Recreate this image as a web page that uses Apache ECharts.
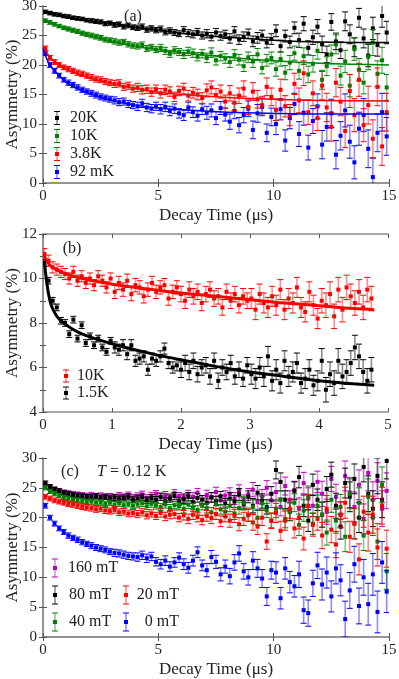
<!DOCTYPE html>
<html>
<head>
<meta charset="utf-8">
<script src="https://cdn.jsdelivr.net/npm/echarts@6/dist/echarts.min.js"></script>
<style>
  html, body { margin: 0; padding: 0; background: #fff; }
  #chart { width: 399px; height: 679px; }
</style>
</head>
<body>
<div id="chart"></div>
<script>
// bin times (us) for panels (a) and (c)
const tA = [0.1,0.3,0.5,0.7,0.9,1.1,1.3,1.5,1.7,1.9,
  2.1,2.3,2.5,2.7,2.9,3.1,3.3,3.5,3.7,3.9,
  4.1,4.3,4.5,4.7,4.9,5.1,5.3,5.5,5.7,5.9,
  6.1,6.3,6.5,6.7,6.9,7.1,7.3,7.5,7.7,7.9,
  8.1,8.3,8.5,8.7,8.9,9.1,9.3,9.5,9.7,9.9,
  10.1,10.3,10.5,10.7,10.9,11.1,11.3,11.5,11.7,11.9,
  12.1,12.3,12.5,12.7,12.9,13.1,13.3,13.5,13.7,13.9,
  14.1,14.3,14.5,14.7,14.9]

// panel (a)
const a20K = [29.0,28.8,28.6,28.5,28.3,28.2,28.0,27.9,27.8,27.6,
  27.5,27.4,27.3,27.0,27.1,26.8,26.9,26.5,26.7,26.4,
  26.3,26.5,26.0,26.2,25.9,26.1,25.6,25.8,25.5,25.3,
  25.9,25.4,25.2,25.6,25.0,25.3,24.8,25.5,24.9,25.2,
  24.5,25.7,24.3,24.8,25.3,24.0,24.6,25.0,23.8,24.4,
  25.8,23.2,24.9,23.9,26.3,24.2,27.0,22.9,24.7,26.5,
  23.5,21.8,27.3,24.0,22.5,27.4,25.2,23.0,28.0,24.5,
  21.6,26.2,23.4,28.3,25.5]
const a10K = [27.5,27.2,26.9,26.6,26.3,26.1,25.9,25.7,25.4,25.2,
  25.0,24.8,24.6,24.3,24.2,24.0,23.8,23.9,23.5,23.3,
  23.2,23.4,22.8,23.0,22.6,22.9,22.4,21.9,22.5,22.2,
  21.8,22.3,22.0,21.4,21.9,21.2,22.1,20.8,21.5,21.1,
  20.5,21.7,20.9,19.8,21.3,20.6,21.8,19.5,20.8,21.2,
  19.3,21.0,18.7,20.4,22.0,19.0,21.5,18.4,20.2,22.4,
  17.5,19.8,21.8,23.5,18.2,20.6,16.5,22.7,19.2,17.0,
  21.4,23.8,18.5,20.8,16.2]
const a38K = [22.8,21.2,20.5,20.0,19.6,19.3,19.0,18.7,18.5,18.2,
  17.9,17.6,17.5,17.2,17.0,16.8,16.9,16.3,16.5,16.0,
  16.2,15.8,15.9,15.4,15.9,15.2,15.8,15.5,14.6,15.6,
  16.0,14.8,15.3,15.0,14.4,15.7,16.2,14.9,15.5,13.8,
  15.2,13.6,14.8,16.0,12.9,15.5,14.2,13.2,16.3,14.6,
  12.4,15.8,13.0,11.5,16.8,14.0,18.6,12.0,15.2,11.0,
  16.5,12.8,9.5,17.0,13.8,8.8,15.6,11.5,17.5,9.8,
  13.2,7.5,16.3,6.2,12.0]
const a92mK = [22.0,20.0,19.0,18.2,17.5,17.0,16.6,16.2,15.8,15.5,
  15.2,14.9,14.6,14.4,14.2,14.0,13.7,13.8,13.4,13.2,
  13.0,13.5,12.8,12.6,13.0,12.5,12.9,12.2,12.6,11.8,
  11.5,12.8,12.0,11.4,12.5,11.9,12.3,11.0,12.7,11.6,
  10.4,12.2,9.8,11.5,12.6,9.0,11.8,12.9,8.5,11.2,
  10.0,12.5,7.2,11.0,13.4,8.3,11.9,6.0,10.5,13.0,
  6.5,9.5,11.8,4.8,8.0,12.3,7.0,3.5,9.2,11.5,
  5.8,1.0,8.5,12.0,7.9]
// error bar size per 1 us bin
const errA20K = [0.3,0.3,0.35,0.4,0.45,0.5,0.6,0.7,0.8,0.9,1.0,1.2,1.4,1.6,1.9]
const errA10K = [0.3,0.35,0.4,0.45,0.5,0.6,0.7,0.8,0.9,1.0,1.2,1.4,1.6,1.9,2.2]
const errA38K = [0.4,0.45,0.5,0.6,0.7,0.8,0.9,1.1,1.3,1.5,1.8,2.1,2.4,2.8,3.2]
const errA92mK = [0.4,0.45,0.5,0.6,0.7,0.8,0.9,1.1,1.3,1.5,1.8,2.1,2.4,2.8,3.2]
// fit curves
const fitTA = [0,0.25,0.5,1,1.5,2,3,4,5,6,8,10,12,15]
const fitA20K = [29.2,28.9,28.6,28.2,27.8,27.5,27.0,26.4,25.9,25.4,24.7,24.2,23.9,23.8]
const fitA10K = [27.8,27.3,26.9,26.2,25.6,25.0,24.0,23.2,22.6,22.1,21.3,20.7,20.3,20.0]
const fitA38K = [23.2,21.6,20.6,19.3,18.5,17.8,16.8,16.0,15.4,15.0,14.5,14.2,14.0,13.9]
const fitA92mK = [22.8,20.3,19.0,17.1,16.0,15.2,14.0,13.2,12.7,12.4,12.0,11.8,11.7,11.7]

// panel (b)
const tB = [0.02,0.08,0.14,0.20,0.26,0.32,0.38,0.44,0.50,0.56,
  0.62,0.68,0.74,0.80,0.86,0.92,0.98,1.04,1.10,1.16,
  1.22,1.28,1.34,1.40,1.46,1.52,1.58,1.64,1.70,1.76,
  1.82,1.88,1.94,2.00,2.06,2.12,2.18,2.24,2.30,2.36,
  2.42,2.48,2.54,2.60,2.66,2.72,2.78,2.84,2.90,2.96,
  3.02,3.08,3.14,3.20,3.26,3.32,3.38,3.44,3.50,3.56,
  3.62,3.68,3.74,3.80,3.86,3.92,3.98,4.04,4.10,4.16,
  4.22,4.28,4.34,4.40,4.46,4.52,4.58,4.64,4.70,4.76]
const b10K = [11.1,10.8,10.5,10.4,10.3,10.2,10.0,10.3,9.9,10.1,
  9.8,10.0,9.7,10.1,9.9,9.6,10.0,9.4,9.8,9.5,
  9.9,9.3,9.7,9.6,9.2,9.5,9.8,9.4,9.6,9.7,
  9.1,9.4,9.6,9.3,9.0,9.5,9.2,9.4,8.9,9.3,
  9.5,9.1,9.2,8.7,9.4,9.0,9.3,8.8,9.2,9.0,
  9.1,8.6,9.3,8.9,8.7,9.2,8.8,9.5,8.6,9.1,
  8.9,9.6,8.7,8.5,9.4,8.8,8.2,9.0,8.8,9.3,
  8.3,9.5,8.6,9.6,9.2,8.9,9.4,8.7,9.5,9.1]
const b15K = [10.7,9.9,9.0,8.7,8.1,8.0,7.5,8.15,7.3,7.9,
  7.1,7.4,7.0,7.3,6.9,6.7,7.2,6.9,6.8,7.0,
  6.6,7.0,6.3,6.4,6.5,5.9,6.4,6.3,6.5,6.85,
  6.2,6.0,6.1,5.9,6.2,5.8,6.3,5.7,6.0,6.1,
  5.6,6.3,5.4,6.0,5.8,6.2,5.6,5.9,5.5,6.1,
  5.7,5.5,6.0,5.6,6.5,5.4,5.9,5.3,6.3,5.6,
  5.8,6.2,5.3,5.5,5.9,5.2,5.4,6.3,5.0,5.7,
  5.3,6.3,5.6,5.8,6.2,6.9,6.5,5.8,5.4,5.9]
const errB10K = [0.25,0.3,0.35,0.45,0.55]
const errB15K = [0.15,0.25,0.35,0.45,0.55]
const fitTB = [0.02,0.1,0.2,0.3,0.5,0.8,1.2,1.6,2,2.5,3,3.5,4,4.5,4.8]
const fitB10K = [11.0,10.6,10.4,10.25,10.05,9.85,9.65,9.5,9.35,9.2,9.05,8.9,8.78,8.65,8.6]
const fitB15K = [10.8,9.0,8.3,8.0,7.6,7.25,6.9,6.6,6.35,6.05,5.8,5.6,5.4,5.27,5.2]

// panel (c), T = 0.12 K, same bin times as (a)
const c160 = [25.5,25.0,24.7,24.5,24.3,24.1,24.0,23.9,23.8,23.7,
  23.8,23.6,23.7,23.5,23.6,23.4,23.7,23.5,23.8,23.4,
  23.6,23.9,23.3,23.7,24.0,23.5,23.8,23.4,24.1,23.6,
  23.3,23.9,23.5,24.2,23.0,23.8,23.4,24.3,22.9,23.7,
  24.0,23.2,24.5,22.8,23.9,24.7,22.6,23.5,25.0,22.9,
  24.3,21.8,25.3,23.0,24.6,21.5,25.8,23.2,22.0,26.0,
  24.0,21.0,26.5,23.5,20.5,27.0,24.2,21.8,25.5,19.8,
  27.5,23.0,26.2,21.5,24.5]
const c80 = [25.8,25.2,24.8,24.5,24.2,24.0,23.8,23.7,23.6,23.5,
  23.4,23.6,23.3,23.5,23.2,23.4,23.1,23.3,23.5,23.0,
  23.2,23.4,22.9,23.3,23.0,23.5,22.8,23.2,23.6,22.7,
  23.1,23.5,22.6,23.3,23.0,22.5,23.4,22.8,23.6,22.4,
  23.2,22.7,23.9,22.3,23.5,22.0,24.2,22.8,21.8,24.0,
  28.0,26.0,23.0,21.0,24.5,26.8,22.0,19.5,25.5,23.0,
  20.5,24.8,27.2,22.0,18.5,25.8,23.5,26.5,20.0,28.5,
  24.0,21.5,27.0,23.0,29.5]
const c40 = [25.0,24.4,24.0,23.7,23.4,23.2,23.0,22.9,22.8,22.6,
  22.7,22.5,22.6,22.3,22.5,22.2,22.4,22.1,22.3,22.0,
  22.2,22.4,21.9,22.3,22.0,21.8,22.2,21.6,22.1,21.9,
  21.5,22.2,21.7,21.3,22.0,21.6,20.9,22.3,21.4,21.0,
  22.0,20.7,21.6,22.5,20.4,21.8,20.0,22.4,21.2,19.5,
  21.5,23.0,19.8,21.0,22.5,18.8,21.2,23.5,19.0,22.0,
  20.5,17.5,23.0,19.5,21.8,16.8,24.0,19.0,22.5,17.0,
  23.5,20.0,16.0,25.5,11.0]
const c20 = [23.5,23.2,22.9,22.7,22.5,22.3,22.2,22.0,21.8,21.7,
  21.6,21.4,21.5,21.2,21.1,21.3,20.9,21.0,20.7,20.8,
  20.6,20.9,20.4,20.7,20.3,20.8,20.2,20.5,20.6,20.0,
  20.4,19.8,20.5,20.1,19.6,20.3,19.9,20.6,19.4,20.2,
  19.5,20.3,18.9,19.8,20.5,19.2,18.5,20.0,16.0,19.5,
  20.8,17.8,19.5,21.5,18.2,20.0,16.5,22.0,18.8,19.8,
  17.0,21.5,18.0,15.5,20.5,22.5,16.8,19.0,13.0,21.0,
  17.5,20.5,15.0,22.0,14.8]
const c0 = [22.0,20.0,19.0,18.2,17.6,17.0,16.6,16.3,15.9,15.6,
  15.3,15.0,14.8,14.6,14.3,14.1,14.0,13.8,13.6,13.5,
  13.4,13.7,13.2,13.5,12.6,12.2,12.8,11.8,12.5,13.3,
  12.2,11.6,12.8,14.2,12.0,11.2,13.4,12.6,10.5,11.8,
  10.2,12.5,14.0,11.0,10.0,12.8,11.5,9.8,6.8,11.2,
  10.8,6.5,11.5,9.2,8.5,10.5,4.5,4.0,9.0,12.0,
  8.8,10.8,6.8,11.5,9.5,3.0,7.8,12.2,5.2,10.0,
  5.5,10.5,4.2,12.5,7.6]
const errC160 = [0.35,0.4,0.45,0.5,0.55,0.6,0.7,0.8,1.0,1.2,1.5,1.8,2.1,2.5,3.0]
const errC80 = [0.35,0.4,0.45,0.5,0.55,0.6,0.7,0.8,1.0,1.2,1.5,1.8,2.1,2.5,3.0]
const errC40 = [0.35,0.4,0.45,0.5,0.55,0.6,0.7,0.8,1.0,1.2,1.5,1.8,2.1,2.5,3.0]
const errC20 = [0.4,0.45,0.5,0.55,0.6,0.7,0.8,0.9,1.1,1.3,1.6,1.9,2.2,2.6,3.1]
const errC0 = [0.4,0.45,0.5,0.6,0.7,0.8,0.9,1.1,1.3,1.5,1.8,2.2,2.6,3.0,3.5]

const FONT = 'Liberation Serif'
const BLACK = '#000000', GREEN = '#008000', RED = '#ff0000', BLUE = '#0000ff', MAG = '#c000c0'
const LIGHT = {}
LIGHT[BLACK] = 'rgba(0,0,0,0.45)'
LIGHT[GREEN] = 'rgba(0,128,0,0.45)'
LIGHT[RED] = 'rgba(255,0,0,0.45)'
LIGHT[BLUE] = 'rgba(0,0,255,0.45)'
LIGHT[MAG] = 'rgba(192,0,192,0.45)'

function pts (ts, vs, errs) {
  return ts.map((t, i) => [t, vs[i], errs[Math.min(Math.floor(t), errs.length - 1)]])
}

function errSeries (name, idx, ts, vs, errs, color) {
  return {
    name: name,
    type: 'custom',
    xAxisIndex: idx,
    yAxisIndex: idx,
    clip: true,
    data: pts(ts, vs, errs),
    renderItem: function (params, api) {
      const x = api.value(0), y = api.value(1), e = api.value(2)
      const p = api.coord([x, y])
      const hi = api.coord([x, y + e])[1]
      const lo = api.coord([x, y - e])[1]
      return {
        type: 'group',
        children: [
          { type: 'line', shape: { x1: p[0], y1: hi, x2: p[0], y2: lo }, style: { stroke: LIGHT[color], lineWidth: 1.6 } },
          { type: 'line', shape: { x1: p[0] - 3, y1: hi, x2: p[0] + 3, y2: hi }, style: { stroke: color, lineWidth: 1 } },
          { type: 'line', shape: { x1: p[0] - 3, y1: lo, x2: p[0] + 3, y2: lo }, style: { stroke: color, lineWidth: 1 } },
          { type: 'rect', shape: { x: p[0] - 2, y: p[1] - 2, width: 4, height: 4 }, style: { fill: color } }
        ]
      }
    }
  }
}

function fitSeries (idx, ts, vs, color, w) {
  return {
    type: 'line',
    xAxisIndex: idx,
    yAxisIndex: idx,
    data: ts.map((t, i) => [t, vs[i]]),
    smooth: 0.4,
    showSymbol: false,
    symbol: 'none',
    silent: true,
    z: 5,
    lineStyle: { color: color, width: w }
  }
}

const axisLine = { show: true, lineStyle: { color: '#8c8c8c', width: 1.5 } }
const tick = { show: true, inside: true, length: 4, lineStyle: { color: '#555' } }
const lab = { fontFamily: FONT, fontSize: 15, color: '#222', showMinLabel: true, showMaxLabel: true }
const nameStyle = { fontFamily: FONT, fontSize: 17, color: '#222' }

function xAxes (grid, max, interval) {
  return [
    { gridIndex: grid, type: 'value', min: 0, max: max, interval: interval, position: 'bottom',
      name: 'Decay Time (μs)', nameLocation: 'middle', nameGap: 24, nameMoveOverlap: false, nameTextStyle: nameStyle,
      axisLine: axisLine, axisTick: tick, axisLabel: Object.assign({ margin: 6 }, lab), splitLine: { show: false } },
    { gridIndex: grid, type: 'value', min: 0, max: max, interval: interval, position: 'top',
      axisLine: axisLine, axisTick: tick, axisLabel: { show: false }, splitLine: { show: false } }
  ]
}

function yAxes (grid, min, max, interval, minor) {
  return [
    { gridIndex: grid, type: 'value', min: min, max: max, interval: interval, position: 'left',
      name: 'Asymmetry (%)', nameLocation: 'middle', nameGap: 22, nameMoveOverlap: false, nameTextStyle: nameStyle,
      axisLine: axisLine, axisTick: tick, axisLabel: Object.assign({ margin: 6 }, lab), splitLine: { show: false },
      minorTick: { show: minor, splitNumber: 2, length: 3, lineStyle: { color: '#555' } } },
    { gridIndex: grid, type: 'value', min: min, max: max, interval: interval, position: 'right',
      axisLine: axisLine, axisTick: tick, axisLabel: { show: false }, splitLine: { show: false },
      minorTick: { show: minor, splitNumber: 2, length: 3, lineStyle: { color: '#555' } } }
  ]
}

// legend entry: small error bar icon with a marker, then the label
function legendItem (x, y, h, color, text, tx, align) {
  return [
    { type: 'line', shape: { x1: x, y1: y - h / 2, x2: x, y2: y + h / 2 }, style: { stroke: LIGHT[color], lineWidth: 1.6 } },
    { type: 'line', shape: { x1: x - 3, y1: y - h / 2, x2: x + 3, y2: y - h / 2 }, style: { stroke: color, lineWidth: 1 } },
    { type: 'line', shape: { x1: x - 3, y1: y + h / 2, x2: x + 3, y2: y + h / 2 }, style: { stroke: color, lineWidth: 1 } },
    { type: 'rect', shape: { x: x - 2, y: y - 2, width: 4, height: 4 }, style: { fill: color } },
    { type: 'text', x: tx, y: y, style: { text: text, font: '16px "' + FONT + '"', fill: '#222', align: align || 'left', verticalAlign: 'middle' } }
  ]
}

const chart = echarts.init(document.getElementById('chart'))

const graphics = [].concat(
  legendItem(57, 118, 13, BLACK, '20K', 70),
  legendItem(57, 136, 13, GREEN, '10K', 70),
  legendItem(57, 154, 13, RED, '3.8K', 70),
  legendItem(57, 172, 13, BLUE, '92 mK', 70),
  legendItem(66, 376, 12, RED, '10K', 77),
  legendItem(66, 393, 12, BLACK, '1.5K', 77),
  legendItem(55, 568, 18, MAG, '160 mT', 68),
  legendItem(55, 595, 18, BLACK, '80 mT', 69),
  legendItem(55, 622, 18, GREEN, '40 mT', 69),
  legendItem(126, 595, 18, RED, '20 mT', 179, 'right'),
  legendItem(126, 622, 18, BLUE, '0 mT', 179, 'right'),
  [
    { type: 'text', x: 133, y: 17, style: { text: '(a)', font: '16px "' + FONT + '"', fill: '#222', align: 'center', verticalAlign: 'middle' } },
    { type: 'text', x: 72, y: 249, style: { text: '(b)', font: '16px "' + FONT + '"', fill: '#222', align: 'center', verticalAlign: 'middle' } },
    { type: 'text', x: 70, y: 472, style: { text: '(c)', font: '16px "' + FONT + '"', fill: '#222', align: 'center', verticalAlign: 'middle' } },
    { type: 'text', x: 97, y: 472, style: { text: 'T', font: 'italic 16px "' + FONT + '"', fill: '#222', verticalAlign: 'middle' } },
    { type: 'text', x: 110, y: 472, style: { text: '= 0.12 K', font: '16px "' + FONT + '"', fill: '#222', verticalAlign: 'middle' } }
  ]
)

const option = {
  animation: false,
  backgroundColor: '#fff',
  grid: [
    { left: 43, right: 10, top: 6, height: 177, outerBoundsMode: 'none', containLabel: false },
    { left: 43, right: 11, top: 234, height: 178, outerBoundsMode: 'none', containLabel: false },
    { left: 43, right: 10, top: 458, height: 179, outerBoundsMode: 'none', containLabel: false }
  ],
  xAxis: [].concat(xAxes(0, 15, 5), xAxes(1, 5, 1), xAxes(2, 15, 5)),
  yAxis: [].concat(yAxes(0, 0, 30, 5, false), yAxes(1, 4, 12, 2, true), yAxes(2, 0, 30, 5, false)),
  series: [
    errSeries('20K', 0, tA, a20K, errA20K, BLACK),
    errSeries('10K', 0, tA, a10K, errA10K, GREEN),
    errSeries('92 mK', 0, tA, a92mK, errA92mK, BLUE),
    errSeries('3.8K', 0, tA, a38K, errA38K, RED),
    fitSeries(0, fitTA, fitA20K, BLACK, 1.5),
    fitSeries(0, fitTA, fitA10K, GREEN, 1.5),
    fitSeries(0, fitTA, fitA38K, RED, 1.5),
    fitSeries(0, fitTA, fitA92mK, BLUE, 1.5),

    errSeries('10K', 2, tB, b10K, errB10K, RED),
    errSeries('1.5K', 2, tB, b15K, errB15K, BLACK),
    fitSeries(2, fitTB, fitB10K, RED, 3),
    fitSeries(2, fitTB, fitB15K, BLACK, 3),

    errSeries('160 mT', 4, tA, c160, errC160, MAG),
    errSeries('80 mT', 4, tA, c80, errC80, BLACK),
    errSeries('40 mT', 4, tA, c40, errC40, GREEN),
    errSeries('20 mT', 4, tA, c20, errC20, RED),
    errSeries('0 mT', 4, tA, c0, errC0, BLUE)
  ],
  graphic: graphics
}

chart.setOption(option)
</script>
</body>
</html>
